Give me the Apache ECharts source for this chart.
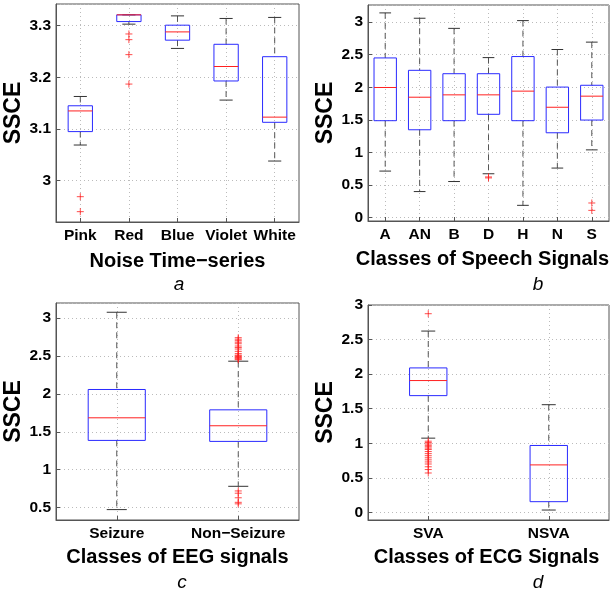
<!DOCTYPE html>
<html><head><meta charset="utf-8">
<script src="https://cdn.jsdelivr.net/npm/echarts@6/dist/echarts.min.js"></script>
<style>html,body{margin:0;padding:0;background:#fff}#c{width:616px;height:591px}</style>
</head><body><div id="c"></div>
<script>
// ---------- Panel a: Noise time-series ----------
const noiseCats = ['Pink', 'Red', 'Blue', 'Violet', 'White'];
const noiseLow  = [3.069, 3.303, 3.256, 3.156, 3.038];
const noiseQ1   = [3.095, 3.308, 3.272, 3.193, 3.113];
const noiseMed  = [3.135, 3.321, 3.288, 3.221, 3.123];
const noiseQ3   = [3.145, 3.321, 3.301, 3.264, 3.240];
const noiseHigh = [3.163, 3.321, 3.319, 3.314, 3.316];
const noiseOutliers = [[0, 2.969], [0, 2.940], [1, 3.284], [1, 3.273], [1, 3.244], [1, 3.187]];

// ---------- Panel b: Speech signals ----------
const speechCats = ['A', 'AN', 'B', 'D', 'H', 'N', 'S'];
const speechLow  = [0.715, 0.401, 0.555, 0.674, 0.190, 0.761, 1.040];
const speechQ1   = [1.487, 1.348, 1.487, 1.585, 1.487, 1.302, 1.497];
const speechMed  = [1.996, 1.847, 1.883, 1.883, 1.940, 1.693, 1.863];
const speechQ3   = [2.449, 2.259, 2.207, 2.207, 2.470, 2.002, 2.030];
const speechHigh = [3.139, 3.057, 2.902, 2.454, 3.021, 2.578, 2.691];
const speechOutliers = [[3, 0.625], [3, 0.610], [6, 0.226], [6, 0.113]];

// ---------- Panel c: EEG signals ----------
const eegCats = ['Seizure', 'Non\u2212Seizure'];
const eegLow  = [0.474, 0.781];
const eegQ1   = [1.386, 1.373];
const eegMed  = [1.684, 1.579];
const eegQ3   = [2.057, 1.789];
const eegHigh = [3.075, 2.430];
const eegOutliers = [
  [1, 2.74], [1, 2.72], [1, 2.70], [1, 2.68], [1, 2.66], [1, 2.63], [1, 2.61], [1, 2.59],
  [1, 2.56], [1, 2.53], [1, 2.51], [1, 2.50], [1, 2.49], [1, 2.48], [1, 2.47], [1, 2.46], [1, 2.45],
  [1, 0.72], [1, 0.69], [1, 0.63], [1, 0.57], [1, 0.55]
];

// ---------- Panel d: ECG signals ----------
const ecgCats = ['SVA', 'NSVA'];
const ecgLow  = [1.074, 0.034];
const ecgQ1   = [1.689, 0.155];
const ecgMed  = [1.907, 0.687];
const ecgQ3   = [2.090, 0.968];
const ecgHigh = [2.623, 1.558];
const ecgOutliers = [
  [0, 2.874],
  [0, 1.03], [0, 1.01], [0, 0.99], [0, 0.97], [0, 0.95], [0, 0.93], [0, 0.91], [0, 0.88],
  [0, 0.85], [0, 0.82], [0, 0.79], [0, 0.76], [0, 0.73], [0, 0.70], [0, 0.66], [0, 0.62], [0, 0.57]
];

const FONT = 'Liberation Sans, Arial, sans-serif';

function boxRows(low, q1, med, q3, high) {
  return low.map((v, i) => [i, v, q1[i], med[i], q3[i], high[i]]);
}

function makeRender(boxFrac, capFrac) {
  return function (params, api) {
    const i = api.value(0);
    const band = api.size([1, 0])[0];
    const bw = band * boxFrac, cw = band * capFrac;
    const pLo = api.coord([i, api.value(1)]);
    const pQ1 = api.coord([i, api.value(2)]);
    const pMd = api.coord([i, api.value(3)]);
    const pQ3 = api.coord([i, api.value(4)]);
    const pHi = api.coord([i, api.value(5)]);
    const x = pLo[0];
    const dash = { stroke: '#555', lineWidth: 1, lineDash: [6, 4] };
    const cap = { stroke: '#333', lineWidth: 1 };
    return {
      type: 'group',
      children: [
        { type: 'line', shape: { x1: x, y1: pHi[1], x2: x, y2: pQ3[1] }, style: dash },
        { type: 'line', shape: { x1: x, y1: pQ1[1], x2: x, y2: pLo[1] }, style: dash },
        { type: 'line', shape: { x1: x - cw / 2, y1: pHi[1], x2: x + cw / 2, y2: pHi[1] }, style: cap },
        { type: 'line', shape: { x1: x - cw / 2, y1: pLo[1], x2: x + cw / 2, y2: pLo[1] }, style: cap },
        { type: 'rect', shape: { x: x - bw / 2, y: pQ3[1], width: bw, height: pQ1[1] - pQ3[1] },
          style: { fill: 'none', stroke: '#2a2aff', lineWidth: 1 } },
        { type: 'line', shape: { x1: x - bw / 2, y1: pMd[1], x2: x + bw / 2, y2: pMd[1] },
          style: { stroke: '#ff2020', lineWidth: 1 } }
      ]
    };
  };
}

const panels = [
  { cats: noiseCats, rows: boxRows(noiseLow, noiseQ1, noiseMed, noiseQ3, noiseHigh), out: noiseOutliers,
    grid: { left: 56, top: 4, width: 243, height: 218 }, min: 2.92, max: 3.342, split: 4, showMax: false,
    xname: 'Noise Time\u2212series', xGap: 29, yGap: 27, box: 0.5, cap: 0.27, namePad: [0, 0, 0, 0] },
  { cats: speechCats, rows: boxRows(speechLow, speechQ1, speechMed, speechQ3, speechHigh), out: speechOutliers,
    grid: { left: 368, top: 5, width: 241, height: 216 }, min: -0.05, max: 3.26, split: 7, showMax: false,
    xname: 'Classes of Speech Signals', xGap: 28, yGap: 31, box: 0.65, cap: 0.34, namePad: [0, 12, 0, 0] },
  { cats: eegCats, rows: boxRows(eegLow, eegQ1, eegMed, eegQ3, eegHigh), out: eegOutliers,
    grid: { left: 56, top: 303, width: 243, height: 217 }, min: 0.337, max: 3.197, split: 6, showMax: false,
    xname: 'Classes of EEG signals', xGap: 27, yGap: 27, box: 0.47, cap: 0.165, namePad: [0, 0, 0, 0] },
  { cats: ecgCats, rows: boxRows(ecgLow, ecgQ1, ecgMed, ecgQ3, ecgHigh), out: ecgOutliers,
    grid: { left: 368, top: 305, width: 241, height: 215 }, min: -0.11, max: 3.0, split: 6, showMax: true,
    xname: 'Classes of ECG Signals', xGap: 27, yGap: 31, box: 0.31, cap: 0.116, namePad: [0, 4, 0, 0] }
];

const grids = [], xAxes = [], yAxes = [], series = [];
panels.forEach((p, k) => {
  grids.push(Object.assign({ show: true, borderColor: '#555', borderWidth: 1, backgroundColor: '#fff',
    containLabel: false, outerBoundsMode: 'none' }, p.grid));
  xAxes.push({
    type: 'category', gridIndex: k, data: p.cats, boundaryGap: true,
    name: p.xname, nameLocation: 'middle', nameGap: p.xGap,
    nameTextStyle: { fontFamily: FONT, fontWeight: 'bold', fontSize: 20, color: '#000', padding: p.namePad },
    axisLine: { onZero: false, lineStyle: { color: '#555', width: 1 } },
    axisTick: { show: true, inside: true, length: 4, alignWithLabel: true, lineStyle: { color: '#555' } },
    axisLabel: { fontFamily: FONT, fontWeight: 'bold', fontSize: 15.5, color: '#000', margin: 6, interval: 0 },
    splitLine: { show: true, alignWithLabel: true, interval: 0, lineStyle: { color: '#bbb', type: [1, 3], width: 1 } }
  });
  yAxes.push({
    type: 'value', gridIndex: k, min: p.min, max: p.max, splitNumber: p.split,
    name: 'SSCE', nameLocation: 'middle', nameGap: p.yGap, nameRotate: 90,
    nameTextStyle: { fontFamily: FONT, fontWeight: 'bold', fontSize: 23, color: '#000' },
    axisLine: { show: true, onZero: false, lineStyle: { color: '#555', width: 1 } },
    axisTick: { show: true, inside: true, length: 4, lineStyle: { color: '#555' } },
    axisLabel: { fontFamily: FONT, fontWeight: 'bold', fontSize: 15.5, color: '#000', margin: 5,
      showMinLabel: false, showMaxLabel: p.showMax },
    splitLine: { show: true, lineStyle: { color: '#bbb', type: [1, 3], width: 1 } }
  });
  series.push({
    type: 'custom', xAxisIndex: k, yAxisIndex: k, data: p.rows,
    encode: { x: 0, y: [1, 2, 3, 4, 5] }, renderItem: makeRender(p.box, p.cap), silent: true, z: 3
  });
  series.push({
    type: 'scatter', xAxisIndex: k, yAxisIndex: k, data: p.out,
    symbol: 'path://M5,0L5,10M0,5L10,5', symbolSize: 7, symbolKeepAspect: true,
    itemStyle: { color: 'rgba(0,0,0,0)', borderColor: '#ff2020', borderWidth: 1 }, silent: true, z: 4
  });
});

const letters = [['a', 179, 285], ['b', 538, 285], ['c', 182, 583], ['d', 538, 583]];

const chart = echarts.init(document.getElementById('c'), null, { renderer: 'canvas' });
chart.setOption({
  animation: false,
  backgroundColor: '#fff',
  grid: grids, xAxis: xAxes, yAxis: yAxes, series: series,
  graphic: letters.map(l => ({
    type: 'text', x: l[1], y: l[2],
    style: { text: l[0], fontFamily: FONT, fontStyle: 'italic', fontSize: 19, fill: '#000',
      textAlign: 'center', textVerticalAlign: 'middle' }
  }))
});
</script></body></html>
